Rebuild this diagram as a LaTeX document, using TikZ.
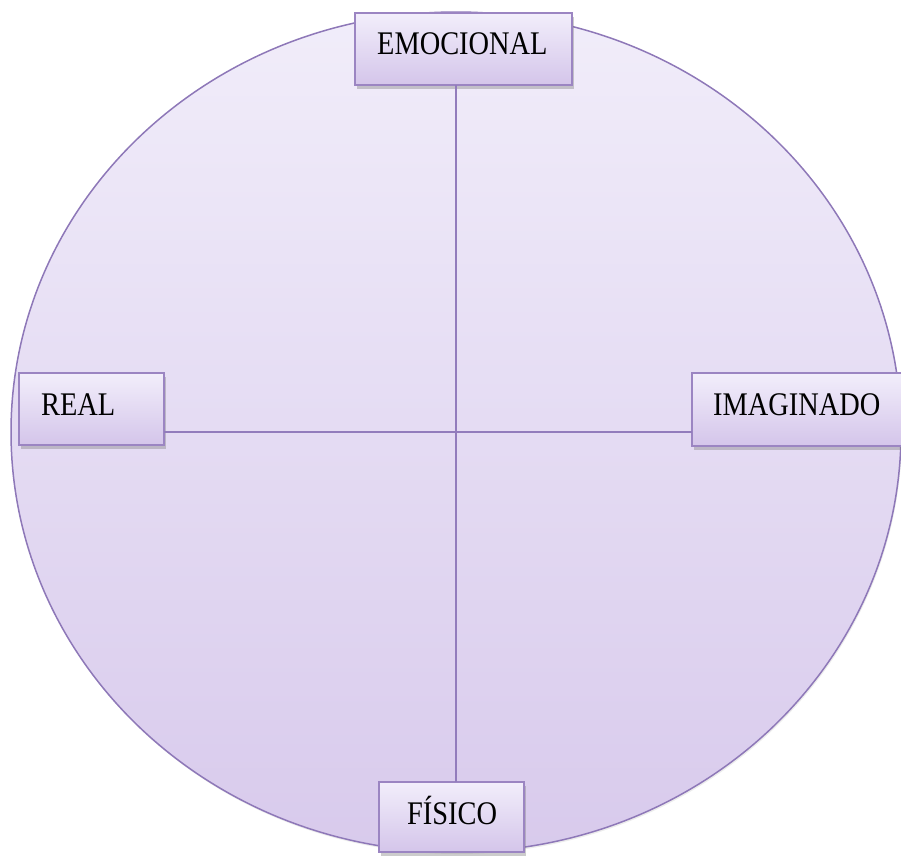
\documentclass[tikz,border=0pt]{standalone}
\usepackage{fontspec}
\setmainfont{Liberation Serif}[FakeStretch=0.86]
\usetikzlibrary{shadows}
\definecolor{ctop}{RGB}{241,237,250}
\definecolor{cbot}{RGB}{216,202,236}
\definecolor{btop}{RGB}{242,238,251}
\definecolor{bbot}{RGB}{212,197,234}
\definecolor{cedge}{RGB}{142,120,184}
\definecolor{bedge}{RGB}{155,133,194}
\definecolor{axis}{RGB}{146,124,188}
\tikzset{
  labelbox/.style={draw=bedge, line width=2pt, top color=btop, bottom color=bbot,
    drop shadow={opacity=0.4, shadow xshift=1.5pt, shadow yshift=-3.5pt}},
  lbl/.style={inner sep=0pt, font=\fontsize{33}{36}\selectfont, text=black},
  axisline/.style={draw=axis, line width=2.2pt}
}
\begin{document}
\begin{tikzpicture}[x=1pt,y=-1pt]
\useasboundingbox (0,0) rectangle (901,855);
\begin{scope}
\clip (0,0) rectangle (901,855);
% circle
\path[draw=cedge, line width=1.5pt, top color=ctop, bottom color=cbot,
  drop shadow={opacity=0.15, shadow xshift=1pt, shadow yshift=-2pt}]
  (456,432) ellipse [x radius=445pt, y radius=420pt];
% boxes
\path[labelbox] (355,13) rectangle (572,85);
\coordinate (emo) at (456,85);
\path[labelbox] (19,373) rectangle (164,445);
\coordinate (real) at (164,432);
\path[labelbox] (692,373) rectangle (912,446);
\coordinate (imag) at (692,432);
\path[labelbox] (379,782) rectangle (524,852);
\coordinate (fis) at (456,782);
% axes
\draw[axisline] (emo) -- (fis);
\draw[axisline] (real) -- (imag);
% labels
\node[lbl, anchor=base west] (temo) at (377,54) {EMOCIONAL};
\node[lbl, anchor=base west] (treal) at (41,415) {REAL};
\node[lbl, anchor=base west] (timag) at (713,415) {IMAGINADO};
\node[lbl, anchor=base west] (tfis) at (407,824) {FÍSICO};
\end{scope}
\end{tikzpicture}
\end{document}
